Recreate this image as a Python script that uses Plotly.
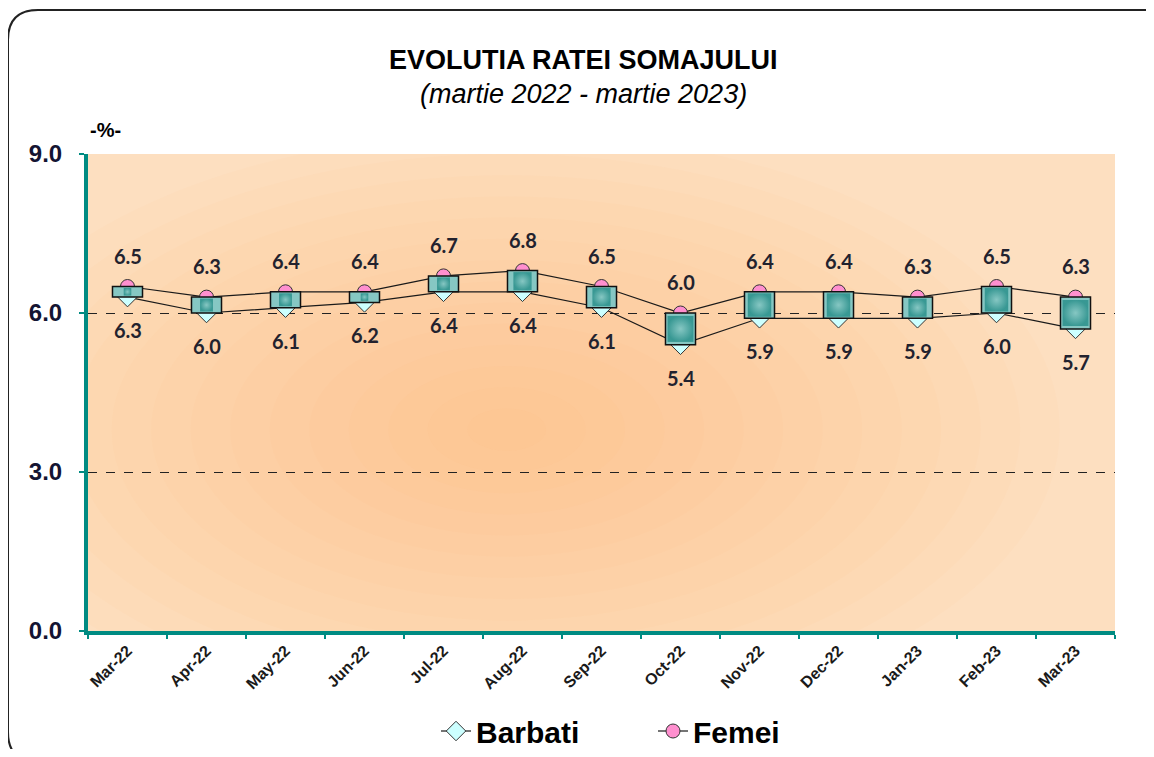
import plotly.graph_objects as go

categories = ["Mar-22", "Apr-22", "May-22", "Jun-22", "Jul-22", "Aug-22", "Sep-22",
              "Oct-22", "Nov-22", "Dec-22", "Jan-23", "Feb-23", "Mar-23"]
barbati = [6.3, 6.0, 6.1, 6.2, 6.4, 6.4, 6.1, 5.4, 5.9, 5.9, 5.9, 6.0, 5.7]
femei = [6.5, 6.3, 6.4, 6.4, 6.7, 6.8, 6.5, 6.0, 6.4, 6.4, 6.3, 6.5, 6.3]
y_ticks = [0, 3, 6, 9]

# page body has an 8px default margin: design in viewport pixels, figure offset by OFF
OFF = 8
W, H = 1154 - 2 * OFF, 757 - 2 * OFF
PL, PR, PT, PB = 88, 1115, 154, 631          # plot area in viewport pixels
ML, MT = PL - OFF, PT - OFF
MR, MB = W - (PR - OFF), H - (PB - OFF)
PW, PH = PR - PL, PB - PT
PX_PER_UNIT = PH / 9.0

def px_x(px):
    return (px - PL) / PW

def px_y(py):
    return (PB - py) / PH

TEAL = "#008B82"
fig = go.Figure()

# lines + markers (base subplot)
fig.add_trace(go.Scatter(
    x=categories, y=barbati, name="Barbati", mode="lines+markers",
    line=dict(color="#1a1a1a", width=1.2),
    marker=dict(symbol="diamond", size=15, color="#CCFFFF", line=dict(color="#333333", width=1)),
))
fig.add_trace(go.Scatter(
    x=categories, y=femei, name="Femei", mode="lines+markers",
    line=dict(color="#1a1a1a", width=1.2),
    marker=dict(symbol="circle", size=14, color="#FF8FCF", line=dict(color="#333333", width=1)),
))

# up-down boxes (overlay subplot so they sit above the markers)
diffs = [f - b for f, b in zip(femei, barbati)]
fig.add_trace(go.Bar(
    x=categories, y=diffs, base=barbati, width=0.38, xaxis="x2", yaxis="y2",
    marker=dict(color="#86C7C3", line=dict(color="#111111", width=1.5)),
    showlegend=False, hoverinfo="skip",
))
mids = [(f + b) / 2 for f, b in zip(femei, barbati)]
sizes = [max(min(d * PX_PER_UNIT, 29) - 3, 4) for d in diffs]
fig.add_trace(go.Scatter(
    x=categories, y=mids, mode="markers", xaxis="x2", yaxis="y2",
    marker=dict(symbol="square", size=sizes, color="#17847F",
                gradient=dict(type="radial", color="#86C7C3"), line=dict(width=0)),
    showlegend=False, hoverinfo="skip",
))

# data labels
lab_font = dict(family="Lato", size=20, color="#22222e", weight="bold")
for c, v in zip(categories, femei):
    fig.add_annotation(x=c, y=v, text=f"{v:.1f}", showarrow=False, yshift=31,
                       font=lab_font, xref="x", yref="y")
for c, v in zip(categories, barbati):
    fig.add_annotation(x=c, y=v, text=f"{v:.1f}", showarrow=False, yshift=-33,
                       font=lab_font, xref="x", yref="y")

# titles
fig.add_annotation(x=px_x(583), y=px_y(60), xref="paper", yref="paper", showarrow=False,
                   xanchor="center", yanchor="middle",
                   text="<b>EVOLUTIA RATEI SOMAJULUI</b>",
                   font=dict(family="Liberation Sans", size=27, color="#000000"))
fig.add_annotation(x=px_x(583), y=px_y(94), xref="paper", yref="paper", showarrow=False,
                   xanchor="center", yanchor="middle",
                   text="<i>(martie 2022 - martie 2023)</i>",
                   font=dict(family="Liberation Sans", size=27, color="#000000"))
fig.add_annotation(x=px_x(105), y=px_y(130), xref="paper", yref="paper", showarrow=False,
                   xanchor="center", yanchor="middle",
                   text="<b>-%-</b>",
                   font=dict(family="Liberation Sans", size=20, color="#000000"))

# background radial glow (data-referenced so it is clipped to the plot area)
shapes = []
n = 14
cx, cy = 4.8, 3.8
for k in range(n):
    f = 1 - k / n
    rx, ry = 7.0 * f, 5.6 * f
    shapes.append(dict(type="circle", xref="x", yref="y",
                       x0=cx - rx, x1=cx + rx, y0=cy - ry, y1=cy + ry,
                       fillcolor="#F4AC68", opacity=0.038, line=dict(width=0), layer="below"))

# rounded outer frame
l, t, r, b, rad = 8, 10, 1178, 762, 30
path = (f"M {px_x(l)},{px_y(t+rad)} Q {px_x(l)},{px_y(t)} {px_x(l+rad)},{px_y(t)} "
        f"L {px_x(r-rad)},{px_y(t)} Q {px_x(r)},{px_y(t)} {px_x(r)},{px_y(t+rad)} "
        f"L {px_x(r)},{px_y(b-rad)} Q {px_x(r)},{px_y(b)} {px_x(r-rad)},{px_y(b)} "
        f"L {px_x(l+rad)},{px_y(b)} Q {px_x(l)},{px_y(b)} {px_x(l)},{px_y(b-rad)} Z")
shapes.append(dict(type="path", xref="paper", yref="paper", path=path,
                   line=dict(color="#222222", width=2), layer="above"))

fig.update_layout(
    width=W, height=H,
    margin=dict(l=ML, r=MR, t=MT, b=MB, autoexpand=False),
    paper_bgcolor="#FFFFFF", plot_bgcolor="#FDDFC0",
    shapes=shapes,
    showlegend=True,
    legend=dict(orientation="h", x=px_x(436), y=px_y(731), xanchor="left", yanchor="middle",
                font=dict(family="Liberation Sans", size=30, color="#000000", weight="bold"),
                bgcolor="rgba(0,0,0,0)", itemsizing="trace",
                entrywidth=172, entrywidthmode="pixels"),
    xaxis=dict(type="category", categoryorder="array", categoryarray=categories,
               range=[-0.5, len(categories) - 0.5],
               showline=True, linecolor=TEAL, linewidth=4, showgrid=False,
               ticks="outside", tickson="boundaries", ticklen=4, tickcolor=TEAL, tickwidth=2,
               tickangle=-45,
               tickfont=dict(family="Liberation Sans", size=16, color="#1a1a1a", weight="bold")),
    yaxis=dict(range=[0, 9], tickvals=y_ticks, tickformat=".1f",
               showline=True, linecolor=TEAL, linewidth=4,
               showgrid=True, gridcolor="#222222", griddash="dash", gridwidth=1,
               zeroline=False,
               ticks="outside", ticklen=5, tickcolor=TEAL, tickwidth=2, ticklabelstandoff=12,
               tickfont=dict(family="Liberation Sans", size=24, color="#141432", weight=600)),
    xaxis2=dict(overlaying="x", matches="x", visible=False, type="category",
                categoryorder="array", categoryarray=categories),
    yaxis2=dict(overlaying="y", matches="y", visible=False),
)

fig.write_html("out.html")
